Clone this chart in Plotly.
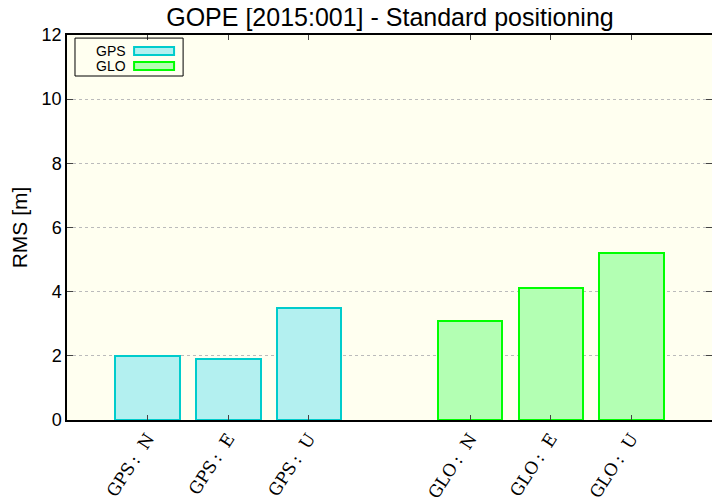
import plotly.graph_objects as go

# Data
series_names = ["GPS", "GLO"]
components = ["N", "E", "U"]
gps_rms = [2.0, 1.9, 3.5]
glo_rms = [3.1, 4.1, 5.2]
gps_x = [1, 2, 3]
glo_x = [5, 6, 7]
tick_vals = gps_x + glo_x
tick_text = [f"{s}\u2009:\u00a0\u00a0{c}" for s in series_names for c in components]
y_ticks = [0, 2, 4, 6, 8, 10, 12]

fill_colors = {"GPS": "#b3f0f0", "GLO": "#b3ffb3"}
line_colors = {"GPS": "#00cccc", "GLO": "#00ff00"}

fig = go.Figure()
for name, xs, ys in [("GPS", gps_x, gps_rms), ("GLO", glo_x, glo_rms)]:
    fig.add_trace(go.Bar(
        x=xs, y=ys, name=name, width=0.8,
        marker=dict(color=fill_colors[name], line=dict(color=line_colors[name], width=2)),
        showlegend=False,
    ))

# Manual gnuplot-style legend (text left, sample box right)
fig.add_shape(type="rect", xref="paper", yref="paper", x0=0.0124, x1=0.180, y0=0.8935, y1=0.992,
              line=dict(color="black", width=1), fillcolor="rgba(0,0,0,0)")
legend_rows = [(0.969, 0.948, 0.958), (0.930, 0.909, 0.919)]
for name, (ya, yb, yt) in zip(series_names, legend_rows):
    fig.add_shape(type="rect", xref="paper", yref="paper", x0=0.104, x1=0.166, y0=yb, y1=ya,
                  line=dict(color=line_colors[name], width=2), fillcolor=fill_colors[name])
    fig.add_annotation(xref="paper", yref="paper", x=0.095, y=yt, text=name, showarrow=False,
                       xanchor="right", yanchor="middle",
                       font=dict(family="Liberation Sans, Arial", size=14, color="black"))

fig.update_layout(
    width=712, height=496,
    margin=dict(l=59, r=8, t=27, b=84),
    paper_bgcolor="white",
    plot_bgcolor="#fffff0",
    bargap=0,
    title=dict(text="GOPE [2015:001] - Standard positioning", x=0.5365, xanchor="center",
               y=1.0, yanchor="top", pad=dict(t=0, b=0),
               font=dict(family="Liberation Sans, Arial", size=25, color="black")),
    font=dict(family="Liberation Sans, Arial", size=18, color="black"),
)
fig.update_xaxes(
    range=[0, 8], tickmode="array", tickvals=tick_vals, ticktext=tick_text,
    tickangle=-57, tickfont=dict(family="DejaVu Serif", size=17),
    ticks="inside", ticklen=5, mirror="ticks", showline=True, linecolor="black", linewidth=1.5,
    showgrid=False, zeroline=False, automargin=False,
)
fig.update_yaxes(
    range=[0, 12], tickmode="array", tickvals=y_ticks,
    ticks="inside", ticklen=6, mirror="ticks", showline=True, linecolor="black", linewidth=1.5,
    showgrid=True, gridcolor="#bbbbbb", griddash="dot", gridwidth=1, zeroline=False,
    title=dict(text="RMS [m]", font=dict(size=21), standoff=14), automargin=False,
)

fig.write_html("out.html")
